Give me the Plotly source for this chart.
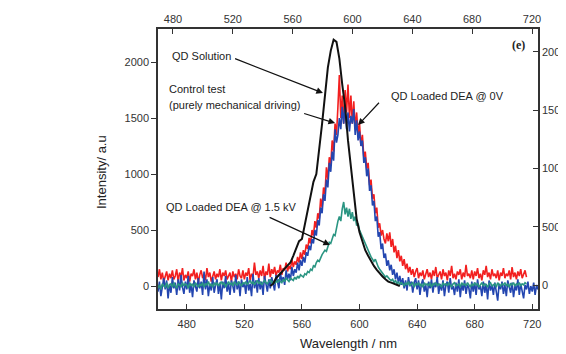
import plotly.graph_objects as go

# ---------------- data ----------------
wl_blue = list(range(460, 725))      # 460..724 nm
wl_red = list(range(460, 717))       # 460..716 nm
wl_green = list(range(460, 717))     # 460..716 nm
wl_black = list(range(538, 630, 2))  # 538..628 nm

red_control = [
    80, 150, 60, 120, 40, 100, 130, 50, 110, 70,
    140, 60, 90, 150, 40, 120, 80, 160, 50, 100,
    70, 130, 40, 110, 90, 150, 60, 120, 30, 100,
    140, 70, 110, 50, 160, 80, 120, 40, 100, 130,
    60, 110, 80, 150, 50, 120, 90, 140, 60, 100,
    120, 40, 130, 80, 110, 60, 150, 90, 70, 140,
    60, 120, 90, 160, 50, 110, 80, 210, 100, 130,
    70, 140, 90, 180, 60, 130, 100, 200, 80, 150,
    110, 170, 90, 140, 120, 190, 100, 160, 140, 210,
    130, 180, 150, 240, 170, 220, 190, 260, 210, 300,
    240, 320, 280, 370, 330, 430, 380, 500, 450, 580,
    520, 650, 600, 780, 700, 880, 820, 1060, 950, 1150,
    1080, 1300, 1200, 1450, 1350, 1600, 1884, 1500, 1700, 1450,
    1750, 1550, 1800, 1500, 1700, 1450, 1650, 1400, 1550, 1350,
    1450, 1250, 1350, 1150, 1200, 1050, 1100, 900, 950, 780,
    820, 650, 700, 520, 560, 450, 500, 420, 380, 470,
    400, 480, 350, 420, 300, 360, 250, 320, 220, 270,
    180, 240, 150, 200, 120, 170, 100, 150, 80, 130,
    160, 70, 120, 90, 140, 60, 110, 150, 80, 120,
    60, 140, 90, 170, 70, 110, 130, 60, 150, 90,
    120, 50, 140, 90, 180, 70, 110, 60, 130, 100,
    150, 60, 120, 80, 190, 90, 110, 70, 140, 60,
    130, 90, 160, 70, 110, 50, 140, 100, 180, 80,
    120, 60, 150, 90, 110, 70, 140, 50, 120, 90,
    160, 70, 110, 90, 140, 60, 170, 80, 120, 60,
    130, 90, 150, 70, 110, 140, 80,
]

blue_0v = [
    -50, 40, -90, 10, 70, -30, 50, -110, 20, -60,
    80, -20, 30, -80, 60, -40, 100, -10, -70, 40,
    -30, 90, -60, 20, -100, 50, 0, -50, 70, -20,
    40, -80, 130, -30, 60, -90, 20, -40, 80, -60,
    10, 60, -70, 30, -120, 40, -20, 90, -50, 20,
    -80, 50, 0, -60, 100, -30, 40, -90, 60, -10,
    30, -70, 80, -40, 20, -90, 110, -20, 50, -60,
    70, -30, 40, -80, 90, 10, -50, 60, -20, 80,
    20, -40, 100, 30, -20, 120, 40, 80, 10, 140,
    60, 110, 50, 170, 90, 150, 120, 210, 140, 230,
    180, 260, 210, 300, 270, 360, 320, 420, 380, 500,
    450, 590, 540, 700, 650, 820, 760, 950, 880, 1100,
    1020, 1200, 1120, 1400, 1280, 1350, 1500, 1400, 1600, 1450,
    1620, 1400, 1550, 1380, 1520, 1450, 1580, 1350, 1480, 1300,
    1380, 1250, 1300, 1100, 1150, 980, 1050, 850, 900, 720,
    760, 580, 620, 440, 480, 330, 380, 250, 290, 180,
    230, 140, 190, 100, 150, 60, 120, 30, 90, 10,
    70, -20, 50, -40, 80, 0, 40, -60, 30, 70,
    -30, 50, -80, 20, 60, -50, 10, -100, 40, -20,
    60, -60, 30, -10, 80, -70, 20, -40, 50, -90,
    10, 40, -60, 70, -30, 0, -80, 30, -50, 60,
    -100, 20, -40, 50, -70, 10, -20, -110, 40, -50,
    30, -80, 60, -30, 0, -90, 40, -60, 20, -120,
    50, -40, 10, -80, 30, -50, -130, 20, -30, 40,
    -70, 10, -90, 50, -20, -60, 30, -100, 0, -40,
    60, -80, 20, -50, -110, 10, -30, 40, -70, 0,
    -50, 30, -80, 10, -30,
]

green_1p5kv = [
    -20, 10, -30, 20, 0, -10, 30, -20, 10, 20,
    -10, 30, 0, -20, 20, 10, -10, 30, 0, 20,
    10, -20, 30, 0, 20, -10, 30, 10, -10, 20,
    0, 30, -10, 20, 10, 40, 0, 20, -10, 30,
    10, 30, 0, 20, 40, 10, 30, -10, 20, 40,
    10, 30, 0, 40, 20, 10, 40, 20, 0, 30,
    20, 40, 10, 30, 50, 20, 40, 10, 30, 50,
    20, 40, 10, 30, 50, 30, 20, 40, 60, 30,
    40, 20, 50, 30, 60, 40, 30, 60, 40, 70,
    50, 40, 70, 60, 50, 80, 60, 90, 70, 100,
    90, 80, 110, 100, 130, 120, 150, 140, 180, 170,
    210, 230, 220, 260, 280, 300, 320, 310, 350, 390,
    380, 420, 460, 450, 530, 580, 620, 580, 690, 750,
    640, 700, 620, 690, 600, 660, 580, 620, 540, 560,
    500, 470, 440, 400, 370, 350, 310, 280, 260, 240,
    220, 240, 200, 170, 150, 130, 110, 100, 80, 90,
    70, 60, 50, 60, 30, 50, 20, 40, 10, 30,
    20, 0, 30, 10, 40, 0, 20, 30, -10, 20,
    10, 30, 0, 20, -10, 30, 10, 20, 0, 30,
    -10, 20, 10, 30, 0, 20, 10, -10, 30, 10,
    20, 0, 30, 10, -10, 20, 30, 0, 10, 20,
    -10, 30, 10, 20, 0, 30, 10, -10, 20, 0,
    30, 10, 20, -10, 10, 30, 0, 20, 10, -10,
    20, 30, 0, 10, 20, -10, 30, 10, 0, 20,
    10, 30, 0, 20, -10, 20, 10, 30, 0, 20,
    10, 30, 0, 20, 10, 30, 20,
]

black_solution = [
    0, 20, 70, 95, 125, 155, 185, 210, 270, 330,
    400, 420, 540, 660, 780, 930, 1000, 1200, 1450, 1700,
    1950, 2100, 2200, 2180, 2030, 1800, 1600, 1300, 1050, 800,
    600, 480, 400, 320, 270, 220, 180, 145, 110, 85,
    60, 40, 30, 20, 10, 0,
]

x_ticks = [480, 520, 560, 600, 640, 680, 720]
y_ticks = [0, 500, 1000, 1500, 2000]

# ---------------- figure ----------------
fig = go.Figure()
fig.add_trace(go.Scatter(x=wl_red, y=red_control, mode="lines",
                         line=dict(color="#f21f1f", width=1.6), showlegend=False))
fig.add_trace(go.Scatter(x=wl_blue, y=blue_0v, mode="lines",
                         line=dict(color="#2346b0", width=1.6), showlegend=False))
fig.add_trace(go.Scatter(x=wl_green, y=green_1p5kv, mode="lines",
                         line=dict(color="#2a9582", width=1.6), showlegend=False))
fig.add_trace(go.Scatter(x=wl_black, y=black_solution, mode="lines",
                         line=dict(color="#111111", width=2), showlegend=False))
# empty trace to attach mirrored axes
fig.add_trace(go.Scatter(x=[], y=[], xaxis="x2", yaxis="y2", showlegend=False))

tickfont = dict(family="Liberation Sans, Arial, sans-serif", size=11, color="#333333")
axline = dict(showline=True, linecolor="#333333", linewidth=1.5, showgrid=False,
              zeroline=False, tickcolor="#333333", tickwidth=1.2, tickfont=tickfont,
              automargin=False)

# the page body adds an 8px offset; plot area sits at 158..538 x 29..309 in the picture
fig.update_layout(
    width=558, height=346,
    margin=dict(l=150, r=28, t=21, b=45, autoexpand=False),
    paper_bgcolor="white", plot_bgcolor="white",
    xaxis=dict(range=[460, 724], tickvals=x_ticks, ticks="inside", ticklen=5,
               ticklabelstandoff=4, **axline),
    yaxis=dict(range=[-205, 2295], tickvals=y_ticks, ticks="outside", ticklen=5, **axline),
    xaxis2=dict(range=[470, 724], tickvals=x_ticks, ticks="inside", ticklen=5,
                overlaying="x", side="top", anchor="y", **axline),
    yaxis2=dict(range=[-206, 2197], tickvals=y_ticks, ticks="inside", ticklen=5,
                overlaying="y", side="right", anchor="x", **axline),
)

L, T, PW, PH = 158, 29, 380, 280


def px(xp, yp):
    return (xp - L) / PW, 1 - (yp - T) / PH


afont = dict(family="Liberation Sans, Arial, sans-serif", size=11, color="#222222")
labels = [
    (170, 56, "QD Solution"),
    (167, 89, "Control test"),
    (167, 105, "(purely mechanical driving)"),
    (389, 96, "QD Loaded DEA @ 0V"),
    (164, 207, "QD Loaded DEA @ 1.5 kV"),
]
annotations = []
for X, Y, txt in labels:
    xf, yf = px(X, Y)
    annotations.append(dict(x=xf, y=yf, xref="paper", yref="paper", text=txt,
                            showarrow=False, xanchor="left", yanchor="middle", font=afont))

# arrows (head and tail in data coordinates)
arrows = [
    ((574.6, 1723), (512.5, 2036)),
    ((583.0, 1455), (560.5, 1545)),
    ((599.0, 1437), (614.5, 1650)),
    ((579.5, 366), (536.5, 619)),
]
for (hx, hy), (tx, ty) in arrows:
    annotations.append(dict(x=hx, y=hy, ax=tx, ay=ty, xref="x", yref="y",
                            axref="x", ayref="y", text="", showarrow=True,
                            arrowhead=2, arrowsize=1.1, arrowwidth=1.2,
                            arrowcolor="#111111"))

xf, yf = px(518, 45)
annotations.append(dict(x=xf, y=yf, xref="paper", yref="paper",
                        text="<b>(e)</b>", showarrow=False,
                        xanchor="center", yanchor="middle",
                        font=dict(family="Liberation Serif, Times New Roman, serif",
                                  size=12, color="#222222")))
xf, yf = px(101, 172)
annotations.append(dict(x=xf, y=yf, xref="paper", yref="paper",
                        text="Intensity/ a.u", showarrow=False, textangle=-90,
                        xanchor="center", yanchor="middle",
                        font=dict(family="Liberation Sans, Arial, sans-serif", size=13,
                                  color="#222222")))
xf, yf = px(348, 343)
annotations.append(dict(x=xf, y=yf, xref="paper", yref="paper",
                        text="Wavelength / nm", showarrow=False,
                        xanchor="center", yanchor="middle",
                        font=dict(family="Liberation Sans, Arial, sans-serif", size=13,
                                  color="#222222")))
fig.update_layout(annotations=annotations)

fig.write_html("out.html")
